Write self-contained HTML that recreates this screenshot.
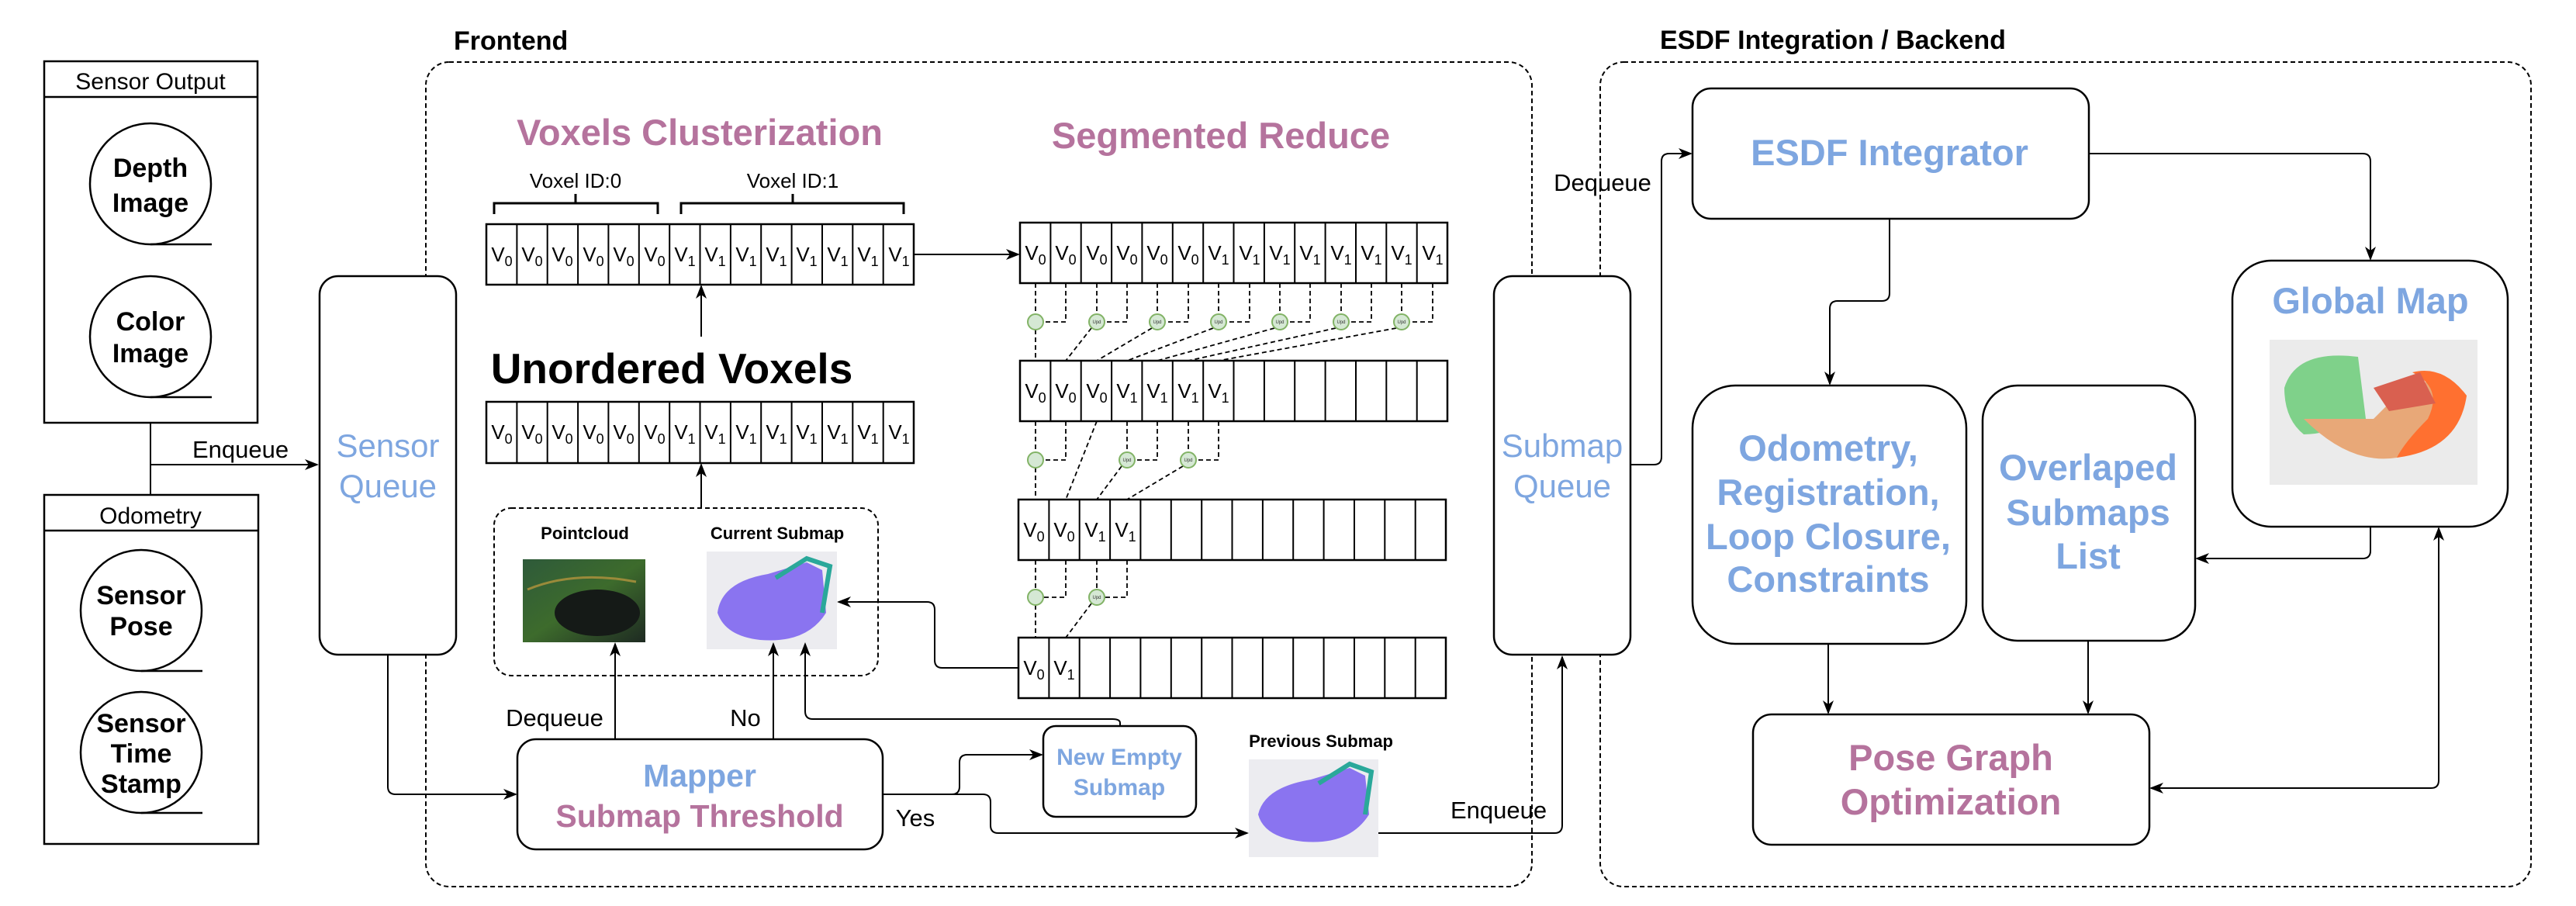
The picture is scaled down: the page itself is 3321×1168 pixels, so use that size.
<!DOCTYPE html>
<html><head><meta charset="utf-8"><style>
html,body{margin:0;padding:0;background:#fff;}
svg{display:block;}
text{font-family:"Liberation Sans",Arial,sans-serif;}
</style></head><body>
<svg width="3321" height="1168" viewBox="0 0 3321 1168" xmlns="http://www.w3.org/2000/svg">
<defs>
<marker id="ar" markerWidth="18" markerHeight="14" refX="16" refY="7" orient="auto" markerUnits="userSpaceOnUse">
<path d="M0,0 L18,7 L0,14 L5,7 Z" fill="#000"/></marker>
<marker id="ars" markerWidth="18" markerHeight="14" refX="2" refY="7" orient="auto" markerUnits="userSpaceOnUse">
<path d="M18,0 L0,7 L18,14 L13,7 Z" fill="#000"/></marker>
<linearGradient id="gpc" x1="0" y1="0" x2="1" y2="1"><stop offset="0" stop-color="#2e5a3a"/><stop offset="0.5" stop-color="#3d6b2c"/><stop offset="1" stop-color="#1e2a22"/></linearGradient>
</defs>
<g fill="none" stroke="#000" stroke-width="2.5">
<rect x="57" y="79" width="275" height="466"/>
<line x1="57" y1="125" x2="332" y2="125"/>
<circle cx="194" cy="237" r="78"/><line x1="194" y1="315" x2="273" y2="315"/>
<circle cx="194" cy="434" r="78"/><line x1="194" y1="512" x2="273" y2="512"/>
<rect x="57" y="638" width="276" height="450"/>
<line x1="57" y1="684" x2="333" y2="684"/>
<circle cx="182" cy="787" r="78"/><line x1="182" y1="865" x2="261" y2="865"/>
<circle cx="182" cy="970" r="78"/><line x1="182" y1="1048" x2="261" y2="1048"/>
</g>
<g fill="none" stroke="#000" stroke-width="2">
<path d="M194,545 V599 H409" marker-end="url(#ar)"/>
<path d="M194,638 V599"/>
<rect x="549" y="80" width="1426" height="1063" rx="30" stroke-dasharray="6 4"/>
<rect x="2063" y="80" width="1200" height="1063" rx="30" stroke-dasharray="6 4"/>
<rect x="637" y="655" width="495" height="216" rx="22" stroke-dasharray="6 4"/>
</g>
<g fill="#fff" stroke="#000" stroke-width="2.5">
<rect x="412" y="356" width="176" height="488" rx="24"/>
<rect x="1926" y="356" width="176" height="488" rx="24"/>
<rect x="667" y="953" width="471" height="142" rx="24"/>
<rect x="1345" y="936" width="197" height="117" rx="16"/>
<rect x="2182" y="114" width="511" height="168" rx="24"/>
<rect x="2182" y="497" width="353" height="333" rx="55"/>
<rect x="2556" y="497" width="274" height="329" rx="45"/>
<rect x="2878" y="336" width="355" height="343" rx="50"/>
<rect x="2260" y="921" width="511" height="168" rx="24"/>
</g>
<g font-size="31" text-anchor="middle" fill="#000">
<text x="194" y="115" font-size="30">Sensor Output</text>
<text x="194" y="675" font-size="30">Odometry</text>
<text x="310" y="590">Enqueue</text>
<text x="715" y="936">Dequeue</text>
<text x="961" y="936">No</text>
<text x="1180" y="1065">Yes</text>
<text x="1932" y="1055">Enqueue</text>
<text x="2066" y="246">Dequeue</text>
</g>
<g font-size="34" font-weight="bold" text-anchor="middle" fill="#000">
<text x="194" y="228">Depth</text><text x="194" y="273">Image</text>
<text x="194" y="426">Color</text><text x="194" y="467">Image</text>
<text x="182" y="779">Sensor</text><text x="182" y="819">Pose</text>
<text x="182" y="944">Sensor</text><text x="182" y="983">Time</text><text x="182" y="1022">Stamp</text>
</g>
<g font-size="34" font-weight="bold" fill="#000">
<text x="585" y="64">Frontend</text>
<text x="2140" y="63">ESDF Integration / Backend</text>
</g>
<g font-size="42" text-anchor="middle" fill="#7EA6E0">
<text x="500" y="589">Sensor</text><text x="500" y="641">Queue</text>
<text x="2014" y="589">Submap</text><text x="2014" y="641">Queue</text>
</g>
<g font-size="47" font-weight="bold" text-anchor="middle">
<text x="902" y="187" fill="#B5739D">Voxels Clusterization</text>
<text x="1574" y="191" fill="#B5739D">Segmented Reduce</text>
<text x="866" y="494" fill="#000" font-size="55">Unordered Voxels</text>
<text x="902" y="1014" fill="#7EA6E0" font-size="41">Mapper</text>
<text x="902" y="1066" fill="#B5739D" font-size="41">Submap Threshold</text>
<text x="2436" y="213" fill="#7EA6E0">ESDF Integrator</text>
<text x="2357" y="594" fill="#7EA6E0">Odometry,</text>
<text x="2357" y="651" fill="#7EA6E0">Registration,</text>
<text x="2357" y="708" fill="#7EA6E0">Loop Closure,</text>
<text x="2357" y="763" fill="#7EA6E0">Constraints</text>
<text x="2692" y="619" fill="#7EA6E0">Overlaped</text>
<text x="2692" y="677" fill="#7EA6E0">Submaps</text>
<text x="2692" y="733" fill="#7EA6E0">List</text>
<text x="3056" y="404" fill="#7EA6E0">Global Map</text>
<text x="2515" y="993" fill="#B5739D">Pose Graph</text>
<text x="2515" y="1050" fill="#B5739D">Optimization</text>
</g>
<g font-size="30" font-weight="bold" text-anchor="middle" fill="#7EA6E0">
<text x="1443" y="986">New Empty</text><text x="1443" y="1025">Submap</text>
</g>
<g font-size="22" font-weight="bold" text-anchor="middle" fill="#000">
<text x="754" y="695">Pointcloud</text>
<text x="1002" y="695">Current Submap</text>
<text x="1703" y="963">Previous Submap</text>
</g>
<g font-size="26" text-anchor="middle" fill="#000">
<text x="742" y="242">Voxel ID:0</text>
<text x="1022" y="242">Voxel ID:1</text>
</g>
<g fill="none" stroke="#000" stroke-width="3">
<path d="M637,276 V262 H848 V276 M742,262 V250"/>
<path d="M878,276 V262 H1165 V276 M1022,262 V250"/>
</g>
<rect x="674" y="721" width="158" height="107" fill="url(#gpc)"/>
<ellipse cx="770" cy="790" rx="55" ry="30" fill="#151a17"/>
<path d="M680,760 Q740,735 820,750" stroke="#9a8a3a" stroke-width="3" fill="none"/>
<rect x="911" y="711" width="168" height="126" fill="#ececf0"/>
<path d="M925,790 Q930,750 990,740 L1040,725 L1060,735 L1065,790 Q1040,830 980,825 Q935,820 925,790 Z" fill="#8a74f0"/>
<path d="M1000,745 L1040,720 L1070,730 L1060,790" fill="none" stroke="#2aa89a" stroke-width="6"/>
<rect x="1610" y="979" width="167" height="126" fill="#ececf0"/>
<path d="M1622,1050 Q1630,1015 1690,1005 L1740,990 L1760,1000 L1765,1050 Q1740,1090 1680,1085 Q1630,1080 1622,1050 Z" fill="#8a74f0"/>
<path d="M1700,1010 L1740,985 L1768,995 L1760,1050" fill="none" stroke="#2aa89a" stroke-width="6"/>
<rect x="2926" y="438" width="268" height="187" fill="#ebebeb"/>
<path d="M2945,500 Q2960,450 3040,460 L3050,540 Q3000,560 2970,560 Q2945,540 2945,500 Z" fill="#7fd18a"/>
<path d="M2970,540 Q3030,600 3090,590 Q3170,570 3180,510 Q3150,480 3100,500 L3060,540 Z" fill="#e8a878"/>
<path d="M3090,590 Q3170,580 3180,510 Q3150,470 3110,480 Q3150,500 3130,540 Q3100,570 3090,590 Z" fill="#ff7030"/>
<path d="M3060,500 L3120,480 L3140,520 L3080,530 Z" fill="#d96050"/>
<g fill="none" stroke="#000" stroke-width="2.5">
<rect x="627" y="289" width="551" height="78"/>
<rect x="627" y="518" width="551" height="79"/>
<rect x="1315" y="287" width="551" height="78"/>
<rect x="1315" y="465" width="551" height="78"/>
<rect x="1313" y="644" width="551" height="78"/>
<rect x="1313" y="822" width="551" height="78"/>
</g>
<g stroke="#000" stroke-width="2">
<path d="M666.4,289V367M705.7,289V367M745.1,289V367M784.4,289V367M823.8,289V367M863.2,289V367M902.5,289V367M941.9,289V367M981.2,289V367M1020.6,289V367M1060,289V367M1099.3,289V367M1138.7,289V367"/>
<path d="M666.4,518V597M705.7,518V597M745.1,518V597M784.4,518V597M823.8,518V597M863.2,518V597M902.5,518V597M941.9,518V597M981.2,518V597M1020.6,518V597M1060,518V597M1099.3,518V597M1138.7,518V597"/>
<path d="M1354.4,287V365M1393.7,287V365M1433.1,287V365M1472.4,287V365M1511.8,287V365M1551.2,287V365M1590.5,287V365M1629.9,287V365M1669.2,287V365M1708.6,287V365M1748,287V365M1787.3,287V365M1826.7,287V365"/>
<path d="M1354.4,465V543M1393.7,465V543M1433.1,465V543M1472.4,465V543M1511.8,465V543M1551.2,465V543M1590.5,465V543M1629.9,465V543M1669.2,465V543M1708.6,465V543M1748,465V543M1787.3,465V543M1826.7,465V543"/>
<path d="M1352.4,644V722M1391.7,644V722M1431.1,644V722M1470.4,644V722M1509.8,644V722M1549.2,644V722M1588.5,644V722M1627.9,644V722M1667.2,644V722M1706.6,644V722M1746,644V722M1785.3,644V722M1824.7,644V722"/>
<path d="M1352.4,822V900M1391.7,822V900M1431.1,822V900M1470.4,822V900M1509.8,822V900M1549.2,822V900M1588.5,822V900M1627.9,822V900M1667.2,822V900M1706.6,822V900M1746,822V900M1785.3,822V900M1824.7,822V900"/>
</g>
<g font-size="26" text-anchor="middle" fill="#000">
<text y="337" x="647">V<tspan font-size="18" dy="6">0</tspan></text>
<text y="337" x="686">V<tspan font-size="18" dy="6">0</tspan></text>
<text y="337" x="725">V<tspan font-size="18" dy="6">0</tspan></text>
<text y="337" x="765">V<tspan font-size="18" dy="6">0</tspan></text>
<text y="337" x="804">V<tspan font-size="18" dy="6">0</tspan></text>
<text y="337" x="844">V<tspan font-size="18" dy="6">0</tspan></text>
<text y="337" x="883">V<tspan font-size="18" dy="6">1</tspan></text>
<text y="337" x="922">V<tspan font-size="18" dy="6">1</tspan></text>
<text y="337" x="962">V<tspan font-size="18" dy="6">1</tspan></text>
<text y="337" x="1001">V<tspan font-size="18" dy="6">1</tspan></text>
<text y="337" x="1040">V<tspan font-size="18" dy="6">1</tspan></text>
<text y="337" x="1080">V<tspan font-size="18" dy="6">1</tspan></text>
<text y="337" x="1119">V<tspan font-size="18" dy="6">1</tspan></text>
<text y="337" x="1159">V<tspan font-size="18" dy="6">1</tspan></text>

<text y="566" x="647">V<tspan font-size="18" dy="6">0</tspan></text>
<text y="566" x="686">V<tspan font-size="18" dy="6">0</tspan></text>
<text y="566" x="725">V<tspan font-size="18" dy="6">0</tspan></text>
<text y="566" x="765">V<tspan font-size="18" dy="6">0</tspan></text>
<text y="566" x="804">V<tspan font-size="18" dy="6">0</tspan></text>
<text y="566" x="844">V<tspan font-size="18" dy="6">0</tspan></text>
<text y="566" x="883">V<tspan font-size="18" dy="6">1</tspan></text>
<text y="566" x="922">V<tspan font-size="18" dy="6">1</tspan></text>
<text y="566" x="962">V<tspan font-size="18" dy="6">1</tspan></text>
<text y="566" x="1001">V<tspan font-size="18" dy="6">1</tspan></text>
<text y="566" x="1040">V<tspan font-size="18" dy="6">1</tspan></text>
<text y="566" x="1080">V<tspan font-size="18" dy="6">1</tspan></text>
<text y="566" x="1119">V<tspan font-size="18" dy="6">1</tspan></text>
<text y="566" x="1159">V<tspan font-size="18" dy="6">1</tspan></text>

<text y="335" x="1335">V<tspan font-size="18" dy="6">0</tspan></text>
<text y="335" x="1374">V<tspan font-size="18" dy="6">0</tspan></text>
<text y="335" x="1414">V<tspan font-size="18" dy="6">0</tspan></text>
<text y="335" x="1453">V<tspan font-size="18" dy="6">0</tspan></text>
<text y="335" x="1492">V<tspan font-size="18" dy="6">0</tspan></text>
<text y="335" x="1532">V<tspan font-size="18" dy="6">0</tspan></text>
<text y="335" x="1571">V<tspan font-size="18" dy="6">1</tspan></text>
<text y="335" x="1611">V<tspan font-size="18" dy="6">1</tspan></text>
<text y="335" x="1650">V<tspan font-size="18" dy="6">1</tspan></text>
<text y="335" x="1689">V<tspan font-size="18" dy="6">1</tspan></text>
<text y="335" x="1729">V<tspan font-size="18" dy="6">1</tspan></text>
<text y="335" x="1768">V<tspan font-size="18" dy="6">1</tspan></text>
<text y="335" x="1807">V<tspan font-size="18" dy="6">1</tspan></text>
<text y="335" x="1847">V<tspan font-size="18" dy="6">1</tspan></text>

<text y="513" x="1335">V<tspan font-size="18" dy="6">0</tspan></text>
<text y="513" x="1374">V<tspan font-size="18" dy="6">0</tspan></text>
<text y="513" x="1414">V<tspan font-size="18" dy="6">0</tspan></text>
<text y="513" x="1453">V<tspan font-size="18" dy="6">1</tspan></text>
<text y="513" x="1492">V<tspan font-size="18" dy="6">1</tspan></text>
<text y="513" x="1532">V<tspan font-size="18" dy="6">1</tspan></text>
<text y="513" x="1571">V<tspan font-size="18" dy="6">1</tspan></text>

<text y="692" x="1333">V<tspan font-size="18" dy="6">0</tspan></text>
<text y="692" x="1372">V<tspan font-size="18" dy="6">0</tspan></text>
<text y="692" x="1412">V<tspan font-size="18" dy="6">1</tspan></text>
<text y="692" x="1451">V<tspan font-size="18" dy="6">1</tspan></text>

<text y="870" x="1333">V<tspan font-size="18" dy="6">0</tspan></text>
<text y="870" x="1372">V<tspan font-size="18" dy="6">1</tspan></text>
</g>
<g fill="none" stroke="#000" stroke-width="1.8" stroke-dasharray="6 4">
<path d="M1335,365V405 M1374,365V415H1345 M1335,425V465"/>
<path d="M1414,365V405 M1453,365V415H1424 M1407,423L1374,465"/>
<path d="M1492,365V405 M1532,365V415H1502 M1485,423L1414,465"/>
<path d="M1571,365V405 M1611,365V415H1581 M1564,423L1453,465"/>
<path d="M1650,365V405 M1689,365V415H1660 M1643,423L1492,465"/>
<path d="M1729,365V405 M1768,365V415H1739 M1722,423L1532,465"/>
<path d="M1807,365V405 M1847,365V415H1817 M1800,423L1571,465"/>
<path d="M1335,543V583 M1374,543V593H1345 M1335,603V644"/>
<path d="M1414,543L1374,644"/>
<path d="M1453,543V583 M1492,543V593H1463 M1446,601L1414,644"/>
<path d="M1532,543V583 M1571,543V593H1542 M1525,601L1453,644"/>
<path d="M1335,722V760 M1374,722V770H1345 M1335,780V822"/>
<path d="M1414,722V760 M1453,722V770H1424 M1407,778L1374,822"/>
</g>
<g fill="#d5e8d4" stroke="#82b366" stroke-width="2">
<circle cx="1335" cy="415" r="10"/><circle cx="1414" cy="415" r="10"/><circle cx="1492" cy="415" r="10"/><circle cx="1571" cy="415" r="10"/><circle cx="1650" cy="415" r="10"/><circle cx="1729" cy="415" r="10"/><circle cx="1807" cy="415" r="10"/>
<circle cx="1335" cy="593" r="10"/><circle cx="1453" cy="593" r="10"/><circle cx="1532" cy="593" r="10"/>
<circle cx="1335" cy="770" r="10"/><circle cx="1414" cy="770" r="10"/>
</g>
<g font-size="6" text-anchor="middle" fill="#333">
<text x="1414" y="417">Upd</text><text x="1492" y="417">Upd</text><text x="1571" y="417">Upd</text><text x="1650" y="417">Upd</text><text x="1729" y="417">Upd</text><text x="1807" y="417">Upd</text>
<text x="1453" y="595">Upd</text><text x="1532" y="595">Upd</text><text x="1414" y="772">Upd</text>
</g>
<g fill="none" stroke="#000" stroke-width="2">
<path d="M904,434V369" marker-end="url(#ar)"/>
<path d="M904,655V599" marker-end="url(#ar)"/>
<path d="M1178,328H1313" marker-end="url(#ar)"/>
<path d="M500,844V1014Q500,1024 510,1024H665" marker-end="url(#ar)"/>
<path d="M793,953V830" marker-end="url(#ar)"/>
<path d="M997,953V830" marker-end="url(#ar)"/>
<path d="M1444,936V932Q1444,927 1434,927H1048Q1038,927 1038,917V830" marker-end="url(#ar)"/>
<path d="M1313,861H1215Q1205,861 1205,851V786Q1205,776 1195,776H1081" marker-end="url(#ar)"/>
<path d="M1138,1024H1227Q1237,1024 1237,1014V983Q1237,973 1247,973H1343" marker-end="url(#ar)"/>
<path d="M1138,1024H1267Q1277,1024 1277,1034V1064Q1277,1074 1287,1074H1608" marker-end="url(#ar)"/>
<path d="M1777,1074H2004Q2014,1074 2014,1064V847" marker-end="url(#ar)"/>
<path d="M2102,599H2132Q2142,599 2142,589V208Q2142,198 2152,198H2180" marker-end="url(#ar)"/>
<path d="M2693,198H3046Q3056,198 3056,208V334" marker-end="url(#ar)"/>
<path d="M2436,282V378Q2436,388 2426,388H2369Q2359,388 2359,398V495" marker-end="url(#ar)"/>
<path d="M3056,679V710Q3056,720 3046,720H2832" marker-end="url(#ar)"/>
<path d="M2357,830V919" marker-end="url(#ar)"/>
<path d="M2692,826V919" marker-end="url(#ar)"/>
<path d="M2773,1016H3134Q3144,1016 3144,1006V681" marker-start="url(#ars)" marker-end="url(#ar)"/>
</g>
</svg>
</body></html>
